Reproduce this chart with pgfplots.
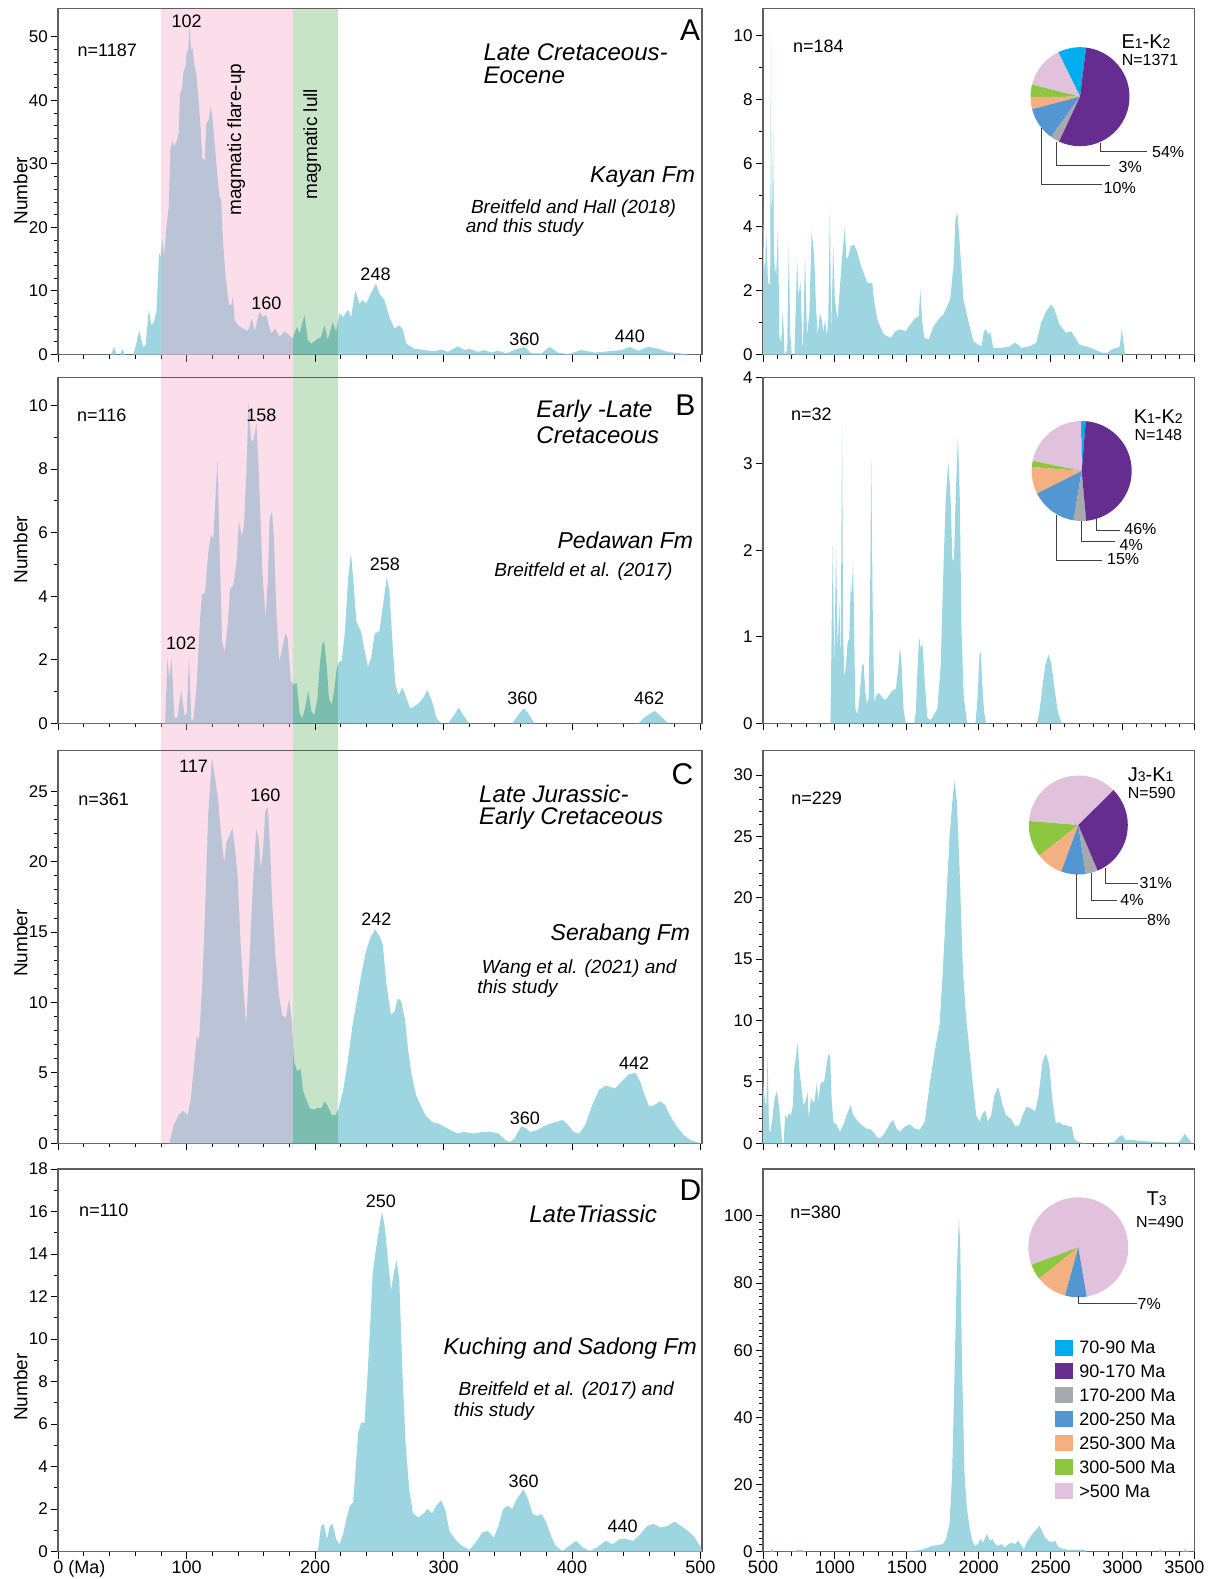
\documentclass[border=0pt]{standalone}
\usepackage{pgfplots}
\pgfplotsset{compat=1.18}
\usepackage{fontspec}
\setmainfont{Liberation Sans}
\definecolor{kde}{RGB}{157,214,225}
\definecolor{axisgray}{RGB}{95,95,95}
\definecolor{bandpink}{RGB}{243,160,194}
\definecolor{bandgreen}{RGB}{176,216,176}
\definecolor{pcyan}{RGB}{0,174,239}
\definecolor{ppurple}{RGB}{102,45,145}
\definecolor{pgray}{RGB}{167,169,172}
\definecolor{pblue}{RGB}{84,150,210}
\definecolor{porange}{RGB}{244,176,128}
\definecolor{pgreen}{RGB}{141,198,63}
\definecolor{ppink}{RGB}{226,193,220}
\newcommand{\fsz}[1]{\fontsize{#1}{#1}\selectfont}
\newcommand{\piechart}[4]{%
  \xdef\pa{#3}%
  \foreach \v/\c in {#4} {%
    \pgfmathsetmacro\pb{\pa+3.6*\v}%
    \fill[\c] (#1) -- ++(\pa:#2) arc[start angle=\pa, end angle=\pb, radius=#2] -- cycle;
    \global\let\pa\pb
  }%
}
\pgfplotsset{
  /pgf/number format/assume math mode=true,
  /pgf/number format/1000 sep={},
  kdeaxis/.style={
    scale only axis,
    axis line style={axisgray, line width=0.8pt},
    tick style={black, line width=0.5pt},
    major tick length=3.5pt, minor tick length=2pt,
    tick align=outside, tick pos=left,
    yticklabel style={font=\fsz{8.5}, inner sep=1.5pt},
    xticklabel style={font=\fsz{9}, inner sep=1pt},
    clip mode=individual,
    ymin=0,
  },
  leftaxis/.style={kdeaxis, width=321.7pt, xmin=0, xmax=501, xtick={0,100,...,500}, minor x tick num=4},
  rightaxis/.style={kdeaxis, width=215.65pt, xmin=500, xmax=3500, xtick={500,1000,...,3500}, minor x tick num=4},
  kde/.style={fill=kde, draw=none},
}
\tikzset{
  pk/.style={font=\fsz{9}, inner sep=0},
  nn/.style={font=\fsz{9}, inner sep=0, anchor=west},
  ttl/.style={font=\fsz{12}\itshape, inner sep=0, anchor=west},
  fm/.style={font=\fsz{11.5}\itshape, inner sep=0},
  rf/.style={font=\fsz{9.5}\itshape, inner sep=0, anchor=west},
  let/.style={font=\fsz{15}, inner sep=0, anchor=east},
  pband/.style={bandpink, fill opacity=0.35},
  gband/.style={bandgreen, fill opacity=0.7, blend mode=multiply},
}
\begin{document}
\begin{tikzpicture}
\useasboundingbox (0,0) rectangle (605pt,-789.5pt);

% ---------------- A left ----------------
\begin{axis}[leftaxis, at={(29.15pt,-177.25pt)}, anchor=south west, height=173pt,
  ymax=54.46, ytick={0,10,...,50}, minor y tick num=4, xticklabels={}]
\addplot[kde] table {
0 0
41 0
43.5 1.2
45.5 0
48 0
50 0.8
52 0
58.5 0
60.5 1.5
63 3.8
66 1.2
68 1.5
70.5 7.1
72.5 4.6
74.4 5.1
76.4 6.7
78.5 15.9
79.8 15.4
80.8 18.3
82.4 15.6
84.2 20.1
86 23.2
87.3 32.2
88.9 33.7
90.2 32.7
92 33.5
93.8 34.8
94.8 41.1
96.4 41.9
97.4 44.5
99 45.3
100 47.9
101 47.4
102.3 51.8
103.4 47.9
104.7 48.2
105.7 45.8
107.5 44.2
109.3 40
110.9 35.3
112.2 30.8
114 30.6
115.3 36.4
117.1 36.9
118.7 39
119.7 37.9
121.8 33.2
124.4 26.9
125.6 24.8
126.9 24.3
128.2 18
130.3 12.2
132.9 7.8
134.7 7.8
136 9.1
137.3 5.4
139.9 4.6
143.8 4.1
147.7 3.7
150.8 5.7
152.8 3.6
156.7 6.7
159.3 5.9
161.9 6.2
164 4.6
165.8 3.3
168.9 4.1
172.3 2.8
176.2 3.6
180.1 3
182.6 2.5
185.8 4.4
187.8 3.3
191.7 6.2
194.3 2.3
196.9 1.7
200.8 2.3
204.7 2.8
207.3 4.6
209.8 2.3
213.7 5.1
216.3 3.6
218.9 6.5
222 5.9
224.1 6.7
225.9 7
228 5.9
231.3 10.1
234.5 8
237 8.6
239.6 8
243.5 9.6
247.4 11.2
250 9.6
253.9 8.6
257.8 5.9
261.7 4.1
265.5 4.6
268.2 4.0
271 1.7
277.3 0.9
285.1 0.7
292.9 0.5
298.1 0.8
303.3 0.4
311.1 1.3
316.3 0.7
320.2 0.9
326.7 0.4
331.9 0.7
337.1 0.3
342.3 0.6
348.8 0.2
357.9 0.9
363.1 1.2
368.3 0.2
376.1 0.15
382.6 1.2
389.1 0.3
396.9 0.05
407.3 0.7
417.7 0.3
428.1 0.5
438.5 0.7
445 1.2
451.5 0.6
459.4 1.2
467.2 0.9
475 0.4
485.4 0.15
490.6 0
501 0
} \closedcycle;
\fill[pband] (axis cs:80,-3.62) rectangle (axis cs:183,54.46);
\fill[gband] (axis cs:183,-3.62) rectangle (axis cs:218,54.46);
\node[nn] at (axis cs:14.8,47.9) {n=1187};
\node[pk] at (axis cs:100,52.5) {102};
\node[pk] at (axis cs:162,8.1) {160};
\node[pk] at (axis cs:247,12.7) {248};
\node[pk] at (axis cs:363,2.4) {360};
\node[pk] at (axis cs:445,2.8) {440};
\node[font=\fsz{9.5}, inner sep=0, rotate=90] at (axis cs:138.6,33.8) {magmatic flare-up};
\node[font=\fsz{9.5}, inner sep=0, rotate=90] at (axis cs:197.7,33.1) {magmatic lull};
\node[let] at (axis cs:500,51) {A};
\node[ttl] at (axis cs:330.8,47.6) {Late Cretaceous-};
\node[ttl] at (axis cs:330.8,44) {Eocene};
\node[fm, anchor=east] at (axis cs:496.1,28) {Kayan Fm};
\node[rf] at (axis cs:321.1,23) {Breitfeld and Hall (2018)};
\node[rf] at (axis cs:317,19.9) {and this study};
\end{axis}

% ---------------- B left ----------------
\begin{axis}[leftaxis, at={(29.15pt,-361.65pt)}, anchor=south west, height=172.9pt,
  ymax=10.88, ytick={0,2,...,10}, minor y tick num=1, xticklabels={}]
\addplot[kde] table {
0 0
83.2 0
85 2.05
86.4 1.4
88.2 2.05
90.4 0.15
92.9 0.2
95.7 1.05
98.2 0.25
100 0.3
101.8 2.07
103.6 0.07
105.4 0.15
107.9 1.3
110 3
111.8 4.06
114.3 4.1
116.8 5.4
118.9 5.93
120.7 5.8
122.1 6.87
123.9 8.3
125.4 5.8
127.5 2.57
129.6 2.23
132.1 3.2
133.9 4.25
136.4 4.35
138.6 5
140.7 6.35
142.9 5.88
144.6 6.24
146.4 7.82
148.2 10.13
150 8.92
151.8 8.87
154.3 9.44
156.4 7.6
158.9 4.77
161.4 3.3
163.2 4.56
164.6 6.45
166.4 6.68
167.9 5.82
170 3.3
172.1 1.94
174.3 2.36
176.8 2.83
178.6 2.68
181.1 1.31
183.2 1.23
185.7 1.26
187.9 0.31
190 0.16
192.1 0.47
194.6 1.02
197.1 0.37
199.3 0.26
201.8 0.79
203.6 1.84
205.4 2.47
207.1 2.57
208.9 1.84
210.7 0.79
212.9 0.58
215 1.1
216.8 1.73
218.6 1.94
220.7 1.96
223.2 2.89
225.7 4.56
227.9 5.35
229.6 4.56
232.1 3.2
235.7 2.89
238.2 2.36
241.1 1.78
243.6 2.05
246.4 2.83
250 2.89
252.9 3.73
255.7 4.59
257.9 4.15
260 2.68
262.5 1.21
265 0.89
267.9 1.12
270.7 0.84
273.9 0.47
276.8 0.52
280.4 0.63
283.9 0.79
287.5 1.05
291.1 0.68
294.6 0.16
298.2 0
303.6 0
308.2 0.26
311.8 0.49
315.4 0.26
319.6 0
353.6 0
358.9 0.31
362.5 0.47
366.1 0.31
370.7 0
451.8 0
457.1 0.21
464.3 0.39
469.6 0.21
475 0
501 0
} \closedcycle;
\fill[pband] (axis cs:80,-0.856) rectangle (axis cs:183,10.88);
\fill[gband] (axis cs:183,-0.856) rectangle (axis cs:218,10.88);
\node[nn] at (axis cs:14.3,9.7) {n=116};
\node[pk] at (axis cs:158.2,9.7) {158};
\node[pk] at (axis cs:95.7,2.52) {102};
\node[pk] at (axis cs:254.3,5.0) {258};
\node[pk] at (axis cs:361.4,0.79) {360};
\node[pk] at (axis cs:460,0.79) {462};
\node[let] at (axis cs:496.4,10) {B};
\node[ttl] at (axis cs:372,9.81) {Early -Late};
\node[ttl] at (axis cs:372,9.06) {Cretaceous};
\node[fm, anchor=east] at (axis cs:494.6,5.77) {Pedawan Fm};
\node[rf, anchor=east] at (axis cs:478.6,4.77) {Breitfeld et al. (2017)};
\end{axis}

% ---------------- C left ----------------
\begin{axis}[leftaxis, at={(29.15pt,-571.65pt)}, anchor=south west, height=196.4pt,
  ymax=27.9, ytick={0,5,...,25}, minor y tick num=4, xticklabels={}]
\addplot[kde] table {
0 0
86.5 0
90 1.3
93.6 2.0
97.2 2.3
100.7 2.0
103.2 3.2
106 5.8
107.8 7.6
109.6 7.35
112.1 11.26
114.2 16.2
116.7 23.3
119.6 27.4
122.1 25.9
124.6 24.3
126.7 21.9
129.2 19.9
131 21.4
133.5 21.9
135.6 22.4
138.1 20.5
139.9 18.6
141.6 14.8
144.1 11
146.3 8.4
148.8 12.9
151.6 18.4
154.1 22.3
155.9 21.7
157.7 19.5
159.4 20.7
161.2 23.6
163 23.9
164.8 21.2
166.5 17.2
169 13.4
171.9 10.5
174.4 9.1
177.2 8.9
179.7 10.3
181.9 8.6
183.6 5.8
186.1 5.1
188.6 5.3
190.7 3.7
193.2 3.1
195.7 2.5
198.6 2.4
202.1 2.5
205 2.5
207.5 3.0
210 2.6
212.8 2.0
215.7 2.0
218.1 2.4
221.7 3.7
225.3 5.8
228.8 8.2
232.4 10.1
235.9 12
239.5 13.6
243 14.6
246.6 15.2
250.2 14.7
252.7 14.1
255.5 11.3
259.1 9.1
261.9 9.4
264.4 10.3
266.9 10.1
269.8 8.9
272.6 6.5
275.1 4.9
278.6 3.4
282.2 2.7
285.8 2.0
291.1 1.5
296.4 1.4
300 1.2
305.3 0.95
310.7 0.7
316 0.8
323.1 0.7
330.2 0.8
337.4 0.8
342.7 0.7
348 0.24
351.6 0.07
355.2 0.36
360.5 1.2
364.1 1.07
367.6 0.8
373 0.95
380.1 1.3
387.2 1.5
392.5 1.66
396.1 1.4
401.4 0.8
405.7 0.7
410.3 1.3
415.7 2.7
421 3.8
426.3 4.1
433.5 3.9
438.8 4.4
444.1 4.9
449.5 5.0
453 4.4
456.6 3.4
460.1 2.6
463.7 2.7
469 3.0
472.6 2.7
476.2 2.0
481.5 1.2
486.8 0.6
492.2 0.24
497.5 0.07
501 0
} \closedcycle;
\fill[pband] (axis cs:80,0) rectangle (axis cs:183,27.9);
\fill[gband] (axis cs:183,0) rectangle (axis cs:218,27.9);
\node[nn] at (axis cs:15.3,24.4) {n=361};
\node[pk] at (axis cs:105.3,26.8) {117};
\node[pk] at (axis cs:161.2,24.7) {160};
\node[pk] at (axis cs:247.7,15.9) {242};
\node[pk] at (axis cs:363.3,1.8) {360};
\node[pk] at (axis cs:448.4,5.7) {442};
\node[let] at (axis cs:494.7,26.2) {C};
\node[ttl] at (axis cs:327.4,24.8) {Late Jurassic-};
\node[ttl] at (axis cs:327.4,23.1) {Early Cretaceous};
\node[fm, anchor=east] at (axis cs:492.2,14.8) {Serabang Fm};
\node[rf] at (axis cs:329.5,12.4) {Wang et al. (2021) and};
\node[rf] at (axis cs:326,11) {this study};
\end{axis}

% ---------------- D left ----------------
\begin{axis}[leftaxis, at={(29.15pt,-775.75pt)}, anchor=south west, height=191.25pt,
  ymax=18, ytick={0,2,...,18}, minor y tick num=1,
  xticklabels={\makebox[5pt][l]{0 (Ma)},100,200,300,400,500}]
\addplot[kde] table {
0 0
202.1 0
204.6 1.2
206.8 1.3
209.3 0.58
211.4 1.2
213.5 1.3
216.4 0.58
218.9 0.34
221.7 0.81
224.2 1.5
227 2.15
229.5 2.3
231.3 3.7
233.5 5.6
235.9 6.07
238.4 6.07
240.6 8.1
242.7 10.45
244.8 13.1
247.3 14.2
249.8 15.2
252 16.0
254.4 15.2
256.6 13.8
259.1 12.3
261.2 13.1
263.3 13.7
265.5 12.8
268 8.4
270.5 5.0
273.3 2.9
276.2 1.8
280.4 1.6
284.7 1.8
287.5 2.0
291.1 1.8
294.7 2.2
298.2 2.4
301.1 2.0
304.6 0.97
308.9 0.58
314.2 0.27
320.3 0.08
324.9 0.42
330.2 0.9
334.5 0.97
339.1 0.66
342.7 1.2
346.3 2.0
349.8 2.15
353.4 2.0
356.9 2.46
362.3 2.93
365.8 2.46
369.4 1.76
373 1.68
376.5 1.76
380.1 1.36
383.6 0.74
387.2 0.27
392.5 0.03
397.9 0.27
403.2 0.5
408.5 0.19
413.9 0.03
419.2 0.19
426.3 0.5
431.7 0.34
437 0.58
442.3 0.58
447.7 0.5
453 0.81
458.4 1.2
463.7 1.3
469 1.13
474.4 1.2
479.7 1.4
485 1.2
490.4 0.97
495.7 0.66
500.4 0.19
501 0
} \closedcycle;
\node[nn] at (axis cs:16,16.07) {n=110};
\node[pk] at (axis cs:251.2,16.5) {250};
\node[pk] at (axis cs:362.3,3.3) {360};
\node[pk] at (axis cs:439.5,1.2) {440};
\node[let] at (axis cs:501,17) {D};
\node[ttl] at (axis cs:366.5,15.9) {LateTriassic};
\node[fm, anchor=east] at (axis cs:497.5,9.55) {Kuching and Sadong Fm};
\node[rf] at (axis cs:311.4,7.55) {Breitfeld et al. (2017) and};
\node[rf] at (axis cs:307.8,6.6) {this study};
\end{axis}

% ---------------- A right ----------------
\begin{axis}[rightaxis, at={(381.5pt,-177.25pt)}, anchor=south west, height=173pt,
  ymax=10.85, ytick={0,2,...,10}, minor y tick num=1, xticklabels={}]
\addplot[kde] table {
500 0
502 4.7
506 3.0
513.8 2.6
523 3.8
534.6 2.25
546 2.2
550 2.2
555.3 10.1
559 4.5
564.5 4.9
571.4 7
575 3.5
580.6 2.8
592 2.5
603.7 4
615 0.5
626.7 0.4
638.2 1.4
649.7 0
668 0.15
679.7 3.5
689 0.7
700.4 0
718.9 0
737.3 3
746.5 1.8
760.4 2.3
776.5 0
792.6 3.1
806.4 0.6
822.6 1.3
838.7 3.9
857 3
868.6 1.5
880.2 0.6
896.3 1.3
907.8 1.1
921.6 0.7
930.8 1.1
944.7 0.6
953.9 1.1
965.4 4.7
974.6 0.6
988.4 3.4
1000 1.7
1018.4 1.1
1046 2.8
1069 4
1080.5 3
1092 3.05
1110.6 3.4
1133.6 3.45
1156.6 3.2
1179.7 2.8
1225.8 2.25
1260.3 2.25
1272 1.7
1294.9 1.1
1318 0.84
1341 0.63
1387 0.52
1421.6 0.73
1456 0.79
1490.7 0.73
1525.3 0.94
1560 1.15
1582.9 1.2
1594.4 2.04
1606 1.1
1622 0.52
1652 0.47
1686.6 0.89
1721 1.1
1755.7 1.26
1801.8 1.73
1824.8 2.77
1838.7 4.24
1852.5 4.45
1866.3 3.6
1894 1.73
1928.5 1.05
1963 0.42
1997.6 0.31
2020.6 0.26
2036.8 0.73
2050.6 0.79
2066.7 0.63
2082.8 0.68
2101.3 0.21
2124.3 0.21
2170.4 0.21
2216.5 0.26
2251 0.37
2274 0.31
2297 0.21
2354.7 0.26
2400.8 0.37
2435.4 1
2470 1.36
2504.5 1.57
2527.5 1.41
2562 0.94
2608.2 0.68
2642.7 0.73
2665.8 0.58
2700.3 0.31
2746.4 0.26
2815.5 0.14
2861.6 0.05
2896.2 0.05
2930.7 0.18
2965.3 0.21
2981.4 0.26
2995.2 0.79
3006.8 0.42
3018.3 0
3500 0
} \closedcycle;
\node[nn] at (axis cs:707,9.67) {n=184};
\end{axis}

% ---------------- B right ----------------
\begin{axis}[rightaxis, at={(381.5pt,-361.65pt)}, anchor=south west, height=172.9pt,
  ymax=4, ytick={0,1,...,4}, xticklabels={}]
\addplot[kde] table {
500 0
969 0
985 2.06
996 0.6
1008 2.04
1020 0.83
1031 1.44
1040 0.67
1050 3.46
1057 1.06
1066 0.52
1077 0.67
1089 0.94
1100 0.98
1110 1.6
1117 1.48
1126 1.87
1133 1.25
1142 0.17
1158 0.1
1175 0.37
1188 0.67
1200 0.69
1211 0.37
1223 0.23
1235 0.29
1246 1.67
1253 3.04
1262 1.44
1274 0.25
1290 0.33
1309 0.35
1332 0.29
1355 0.27
1378 0.33
1401 0.38
1424 0.4
1440 0.63
1452 0.88
1463 0.71
1477 0.17
1493 0
1551 0
1563 0.13
1574 0.6
1586 1.0
1597 0.87
1609 0.92
1625 0.48
1643 0.06
1666 0.04
1690 0.1
1713 0.17
1736 0.67
1752 1.63
1771 2.6
1789 3.02
1805 2.6
1817 1.9
1828 1.88
1840 2.6
1856 3.33
1868 2.67
1881 1.06
1897 0.29
1920 0
1978 0
1992 0.29
2006 0.79
2015 0.83
2024 0.48
2038 0.13
2052 0
2405 0
2422 0.13
2440 0.37
2463 0.67
2487 0.8
2505 0.69
2528 0.4
2551 0.13
2579 0
3500 0
} \closedcycle;
\node[nn] at (axis cs:692,3.58) {n=32};
\end{axis}

% ---------------- C right ----------------
\begin{axis}[rightaxis, at={(381.5pt,-571.65pt)}, anchor=south west, height=196.4pt,
  ymax=32, ytick={0,5,...,30}, minor y tick num=4, xticklabels={}]
\addplot[kde] table {
500 0
502 5.0
513.9 3.4
523 3.1
532 7.3
541.6 1.2
550.8 0.8
564.7 2.0
580.8 3.7
597 4.26
613 2.85
624.7 1.2
634 0
643 0
654.7 2.3
666.3 2.0
677.8 2.44
694 2.3
707.9 3.1
717 6.1
731 7.2
742.5 8.3
751.7 6.1
765.6 4.75
781.8 3.1
795.6 3.4
809.5 4.2
818.7 2.0
832.6 3.7
844 3.4
858 3.4
874 4.9
885.7 3.4
897.2 4.75
908.8 5.0
925 5.0
938.8 6.1
952.7 7.2
966.5 7.2
978 3.4
989.6 1.76
1012.7 1.5
1035.8 0.95
1059 1.5
1082 2.3
1109.7 3.1
1128 2.3
1151 1.9
1186 1.5
1220 1.2
1255 1.1
1290 0.54
1313 0.4
1336 0.68
1359 1.1
1382 1.6
1406 1.9
1429 1.2
1452 0.95
1486 1.36
1521 1.55
1555 1.2
1590 1.1
1625 1.76
1659 4.75
1694 7.47
1728 9.64
1752 14.3
1775 19.7
1798 25.1
1821 28.4
1833 29.6
1849 27.8
1867 22.4
1890 14.3
1913 10.2
1937 7.47
1960 4.75
1983 2.3
2006 1.76
2022 2.3
2045 2.7
2064 1.76
2087 2.3
2110 3.94
2137 4.6
2167 3.1
2190 2.3
2225 2.0
2255 1.36
2283 1.5
2306 2.3
2333 3.0
2363 2.85
2393 2.6
2417 3.94
2444 6.65
2468 7.33
2491 6.4
2514 3.4
2537 1.6
2560 1.76
2583 1.5
2606 1.5
2629 1.36
2648 1.36
2664 0.4
2687 0.14
2745 0
2861 0
2942 0.1
2976 0.54
3000 0.68
3022 0.27
3068 0.27
3137 0.19
3207 0.14
3299 0.08
3392 0.08
3415 0.4
3434 0.8
3457 0.4
3480 0.08
3490 0
3500 0
} \closedcycle;
\node[nn] at (axis cs:694,28.1) {n=229};
\end{axis}

% ---------------- D right ----------------
\begin{axis}[rightaxis, at={(381.5pt,-775.75pt)}, anchor=south west, height=191.25pt,
  ymax=114, ytick={0,20,...,100}, minor y tick num=9,
  xticklabels={500,1000,1500,2000,2500,3000,\hspace*{-10pt}3500}]
\addplot[kde] table {
500 0
553.7 0
563 1.2
572 0
698.6 0
768.7 0.6
792 0
1493 0
1586.4 0.4
1633 1.0
1680 1.7
1715 1.9
1750 2.2
1773 3.7
1797 8.2
1815.5 23
1832 53
1848 83
1862 99
1871 93
1885.5 53
1902 23
1918 13
1937 7.2
1956 3.2
1974 1.7
1995.3 2.2
2011.7 3.7
2030 2.7
2047 4.2
2061 5.2
2077 3.2
2096 3.7
2114.5 2.2
2135.5 1.7
2159 2.2
2182 1.2
2206 2.2
2229 2.7
2252 2.2
2276 3.2
2299 1.7
2315 0.7
2334 2.7
2357 4.2
2381 5.7
2404 6.7
2423 7.7
2439 6.2
2462 4.2
2486 3.2
2509 2.7
2533 3.2
2549 1.7
2568 1.0
2603 0.7
2638 0.4
2685 0.6
2731 0.6
2750 0
2988 0
3012 0.4
3035 0
3250 0
3264 0.7
3280 0
3420 0
3437 0.7
3456 0
3500 0
} \closedcycle;
\node[nn] at (axis cs:687,101) {n=380};
\end{axis}

% ---------------- pies ----------------
\piechart{540pt,-48.35pt}{24.75pt}{83}{9.2/pcyan, 13.8/ppink, 4/pgreen, 4/porange, 11/pblue, 3/pgray, 55/ppurple}
\piechart{540.85pt,-235.5pt}{25pt}{85.4}{1.5/pcyan, 21.5/ppink, 2/pgreen, 8.7/porange, 15/pblue, 4/pgray, 47.3/ppurple}
\piechart{539.15pt,-412.5pt}{24.75pt}{44.7}{36.3/ppink, 11.9/pgreen, 8.8/porange, 8/pblue, 4/pgray, 31/ppurple}
\piechart{539.15pt,-623.65pt}{25pt}{279.7}{78/ppink, 5/pgreen, 10/porange, 7/pblue}

% ---------------- annotations in pixel coordinates ----------------
\begin{scope}[x=0.5pt, y=-0.5pt]
\foreach \yy/\t in {190.8/A, 549.5/B, 943/C, 1387/D}
  \node[font=\fsz{9.5}, rotate=90, inner sep=0] at (20.5,\yy) {Number};
\begin{scope}[draw=black!75, line width=0.5pt]
\draw (1100,142.7) -- (1100,151.7) -- (1146.7,151.7);
\draw (1056.7,141.7) -- (1056.7,165) -- (1110,165);
\draw (1041,128.3) -- (1041,184.3) -- (1101.7,184.3);
\draw (1096.7,519) -- (1096.7,530.7) -- (1120,530.7);
\draw (1081,520.7) -- (1081,541.7) -- (1115,541.7);
\draw (1056,515) -- (1056,560.7) -- (1102.3,560.7);
\draw (1105,867.7) -- (1105,883.3) -- (1138.3,883.3);
\draw (1091.7,873.3) -- (1091.7,900) -- (1116.7,900);
\draw (1076.7,874.3) -- (1076.7,918.3) -- (1146.7,918.3);
\draw (1078.3,1296) -- (1078.3,1303.3) -- (1136.7,1303.3);
\end{scope}
\tikzset{pc/.style={font=\fsz{8}, inner sep=0, anchor=west}}
\node[pc] at (1151.7,152.3) {54\%};
\node[pc] at (1118.3,166.7) {3\%};
\node[pc] at (1103.3,187.7) {10\%};
\node[pc] at (1124,529.3) {46\%};
\node[pc] at (1119.3,545) {4\%};
\node[pc] at (1106.7,559.3) {15\%};
\node[pc] at (1139.3,883.3) {31\%};
\node[pc] at (1120,900) {4\%};
\node[pc] at (1146.7,920) {8\%};
\node[pc] at (1137.3,1304) {7\%};
\tikzset{pt/.style={font=\fsz{10}, inner sep=0}, pn/.style={font=\fsz{8}, inner sep=0}}
\node[pt] at (1146,41.7) {E{\fsz{7}1}-K{\fsz{7}2}};
\node[pn] at (1150,60) {N=1371};
\node[pt] at (1158.3,416.7) {K{\fsz{7}1}-K{\fsz{7}2}};
\node[pn] at (1158.3,435) {N=148};
\node[pt] at (1150.7,774.3) {J{\fsz{7}3}-K{\fsz{7}1}};
\node[pn] at (1151.7,793.3) {N=590};
\node[pt] at (1156.7,1198.3) {T{\fsz{7}3}};
\node[pn] at (1160,1221.7) {N=490};
\foreach \c/\t [count=\i from 0] in {pcyan/70-90 Ma, ppurple/90-170 Ma, pgray/170-200 Ma, pblue/200-250 Ma, porange/250-300 Ma, pgreen/300-500 Ma, ppink/>500 Ma}{
  \pgfmathsetmacro\yc{1347.5+23.9*\i}
  \fill[\c] (1055,\yc-8) rectangle (1072.7,\yc+8);
  \node[font=\fsz{9}, inner sep=0, anchor=west] at (1079,\yc) {\t};
}
\end{scope}
\end{tikzpicture}
\end{document}
